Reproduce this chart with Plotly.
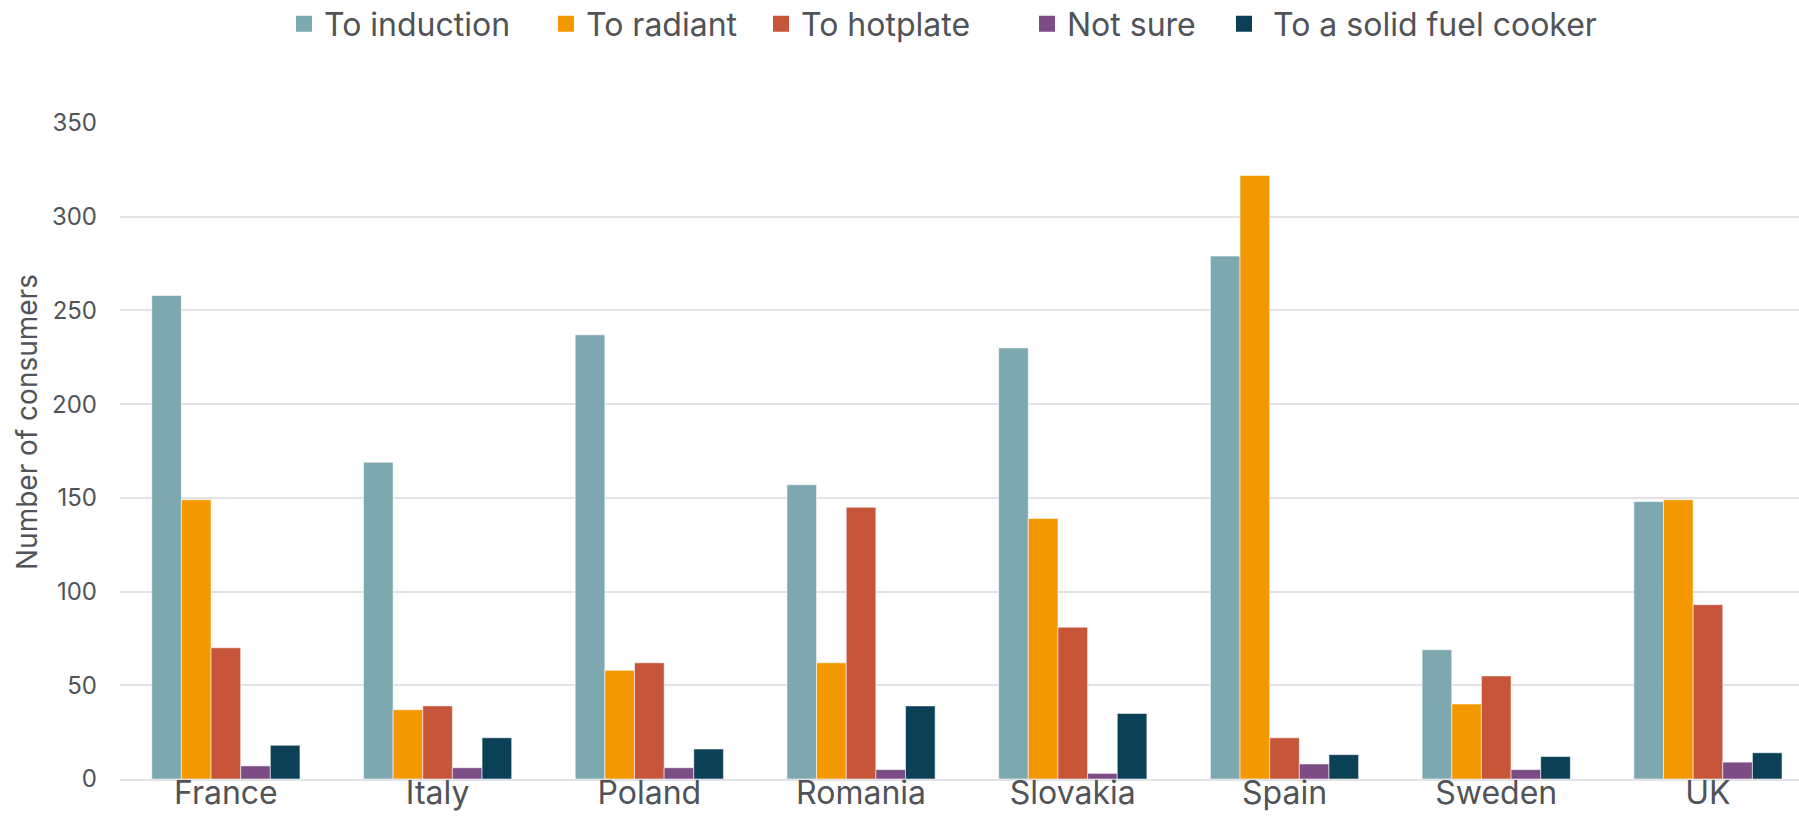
import plotly.graph_objects as go

# Categories and series values
countries = ["France", "Italy", "Poland", "Romania", "Slovakia", "Spain", "Sweden", "UK"]
series_names = ["To induction", "To radiant", "To hotplate", "Not sure", "\u00a0To a solid fuel cooker"]
to_induction = [258, 169, 237, 157, 230, 279, 69, 148]
to_radiant = [149, 37, 58, 62, 139, 322, 40, 149]
to_hotplate = [70, 39, 62, 145, 81, 22, 55, 93]
not_sure = [7, 6, 6, 5, 3, 8, 5, 9]
to_solid_fuel = [18, 22, 16, 39, 35, 13, 12, 14]
y_tick_values = [0, 50, 100, 150, 200, 250, 300, 350]

series_values = [to_induction, to_radiant, to_hotplate, not_sure, to_solid_fuel]
colors = ["#7DA8B0", "#F39800", "#C6553A", "#7C4D85", "#0B4056"]

W, H = 1799, 838
FONT = "Inter, Roboto, sans-serif"
TEXT = "#505358"

fig = go.Figure()

for name, vals, col in zip(series_names, series_values, colors):
    fig.add_trace(go.Bar(
        x=countries, y=vals, name=name.strip(),
        marker=dict(color=col, line=dict(color="rgba(255,255,255,0.55)", width=1)),
        showlegend=False,
    ))

# Legend entries: one square marker per series, each in its own legend box
legend_left = [298, 560, 775, 1041, 1238]
legend_keys = ["legend", "legend2", "legend3", "legend4", "legend5"]
for name, col, key in zip(series_names, colors, legend_keys):
    fig.add_trace(go.Scatter(
        x=[None], y=[None], mode="markers", name=name,
        marker=dict(symbol="square", size=16, color=col),
        legend=key, showlegend=True,
    ))

legend_layout = {}
for key, left in zip(legend_keys, legend_left):
    legend_layout[key] = dict(
        orientation="h", xref="container", yref="container",
        x=(left - 14) / W, xanchor="left",
        y=1 - 24 / H, yanchor="middle",
        font=dict(family=FONT, size=32, color=TEXT),
        bgcolor="rgba(0,0,0,0)", borderwidth=0,
        itemclick=False, itemdoubleclick=False,
    )

fig.update_layout(
    width=W, height=H,
    paper_bgcolor="white", plot_bgcolor="white",
    margin=dict(l=120, r=0, t=123, b=59, autoexpand=False),
    barmode="group", bargap=0.30, bargroupgap=0,
    font=dict(family=FONT, color=TEXT),
    **legend_layout,
)

# Vertical axis title, placed beside the tick labels
fig.add_annotation(
    text="Number of consumers", textangle=-90,
    xref="paper", yref="paper", x=(27 - 120) / (W - 120), y=(779 - 422) / (779 - 123),
    xanchor="center", yanchor="middle", showarrow=False,
    font=dict(family=FONT, size=28, color=TEXT),
)

fig.update_xaxes(
    type="category", range=[-0.5, 7.43],
    showgrid=False, showline=True, linecolor="#E2E2E7", linewidth=2,
    ticks="", tickfont=dict(family=FONT, size=32, color=TEXT),
    ticklabelstandoff=-15, fixedrange=True,
)
fig.update_yaxes(
    range=[0, 350], tickvals=y_tick_values,
    showgrid=True, gridcolor="#E2E2E7", gridwidth=1.5,
    zeroline=False, showline=False, ticks="",
    tickfont=dict(family=FONT, size=24, color=TEXT),
    ticklabelstandoff=22,
    automargin=False, fixedrange=True,
)

fig.write_html("out.html", config={"displayModeBar": False})
